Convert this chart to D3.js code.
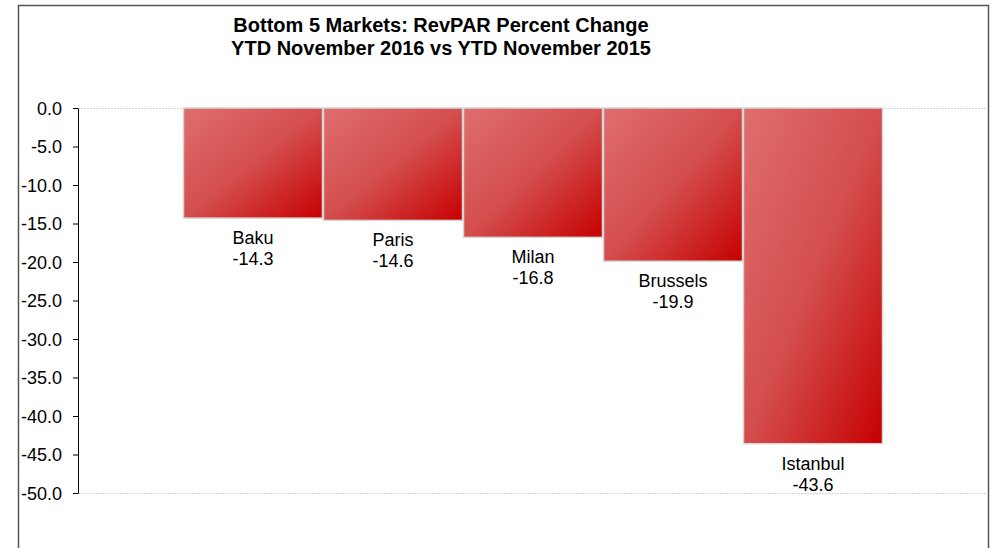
<!DOCTYPE html>
<html>
<head>
<meta charset="utf-8">
<script src="https://cdn.jsdelivr.net/npm/d3@7"></script>
<style>
  body { margin: 0; background: #fff; }
  text { font-family: "Liberation Sans", Arial, sans-serif; fill: #000; }
</style>
</head>
<body>
<svg id="chart" width="990" height="548"></svg>
<script>
// Chart data
const markets = ["Baku", "Paris", "Milan", "Brussels", "Istanbul"];
const revparChange = [-14.3, -14.6, -16.8, -19.9, -43.6];
const yTicks = [0, -5, -10, -15, -20, -25, -30, -35, -40, -45, -50];
const titleLines = ["Bottom 5 Markets: RevPAR Percent Change", "YTD November 2016 vs YTD November 2015"];

const svg = d3.select('#chart');

// Gradient for the bars (light red top-left to dark red bottom-right)
const grad = svg.append('defs')
    .append('linearGradient')
    .attr('id', 'barGrad')
    .attr('x1', 0).attr('y1', 0)
    .attr('x2', 1).attr('y2', 1);
grad.append('stop').attr('offset', '0%').attr('stop-color', '#df6e6e');
grad.append('stop').attr('offset', '50%').attr('stop-color', '#d44e4e');
grad.append('stop').attr('offset', '100%').attr('stop-color', '#c60000');

// Outer frame
svg.append('rect')
    .attr('x', 18.5)
    .attr('y', 5.5)
    .attr('width', 970)
    .attr('height', 560)
    .attr('fill', 'none')
    .attr('stroke', '#555')
    .attr('stroke-width', 1.5);

// Title
svg.append('text')
    .attr('text-anchor', 'middle')
    .attr('font-weight', 'bold')
    .attr('font-size', '20px')
    .selectAll('tspan')
    .data(titleLines)
    .join('tspan')
    .attr('x', 441)
    .attr('y', (d, i) => 32 + i * 23)
    .text(d => d);

// Scales
const x = d3.scaleBand()
    .domain(markets)
    .range([78, 988])
    .paddingInner(0)
    .paddingOuter(0.75);

const y = d3.scaleLinear()
    .domain([-50, 0])
    .range([493, 108]);

// Plot area top and bottom lines
svg.append('g')
    .selectAll('line')
    .data([0, -50])
    .join('line')
    .attr('x1', 78)
    .attr('x2', 988)
    .attr('y1', d => y(d) + 0.5)
    .attr('y2', d => y(d) + 0.5)
    .attr('stroke', '#d4d4d4')
    .attr('stroke-dasharray', '2,1');

// Bars
svg.append('g')
    .selectAll('rect')
    .data(revparChange)
    .join('rect')
    .attr('x', (d, i) => x(markets[i]) + 0.5)
    .attr('y', y(0))
    .attr('width', x.bandwidth() - 1)
    .attr('height', d => y(d) - y(0))
    .attr('fill', 'url(#barGrad)')
    .attr('stroke', '#d6d6d6')
    .attr('stroke-width', 1.5);

// Category and value labels under each bar
const labels = svg.append('g')
    .attr('font-size', '18px')
    .attr('text-anchor', 'middle');
labels.selectAll('text.name')
    .data(revparChange)
    .join('text')
    .attr('class', 'name')
    .attr('x', (d, i) => x(markets[i]) + x.bandwidth() / 2)
    .attr('y', d => y(d) + 26)
    .text((d, i) => markets[i]);
labels.selectAll('text.val')
    .data(revparChange)
    .join('text')
    .attr('class', 'val')
    .attr('x', (d, i) => x(markets[i]) + x.bandwidth() / 2)
    .attr('y', d => y(d) + 47)
    .text(d => d.toFixed(1));

// Y axis
const yAxis = svg.append('g')
    .attr('transform', 'translate(78,0)')
    .call(d3.axisLeft(y).tickValues(yTicks).tickFormat(d => d.toFixed(1)).tickSize(5).tickSizeOuter(0));
yAxis.select('.domain').attr('stroke', '#000');
yAxis.selectAll('.tick line').attr('stroke', '#000');
yAxis.selectAll('.tick text')
    .attr('font-size', '18px')
    .attr('font-family', '"Liberation Sans", Arial, sans-serif')
    .attr('fill', '#000')
    .attr('x', -16)
    .attr('dy', '0.35em');
</script>
</body>
</html>
